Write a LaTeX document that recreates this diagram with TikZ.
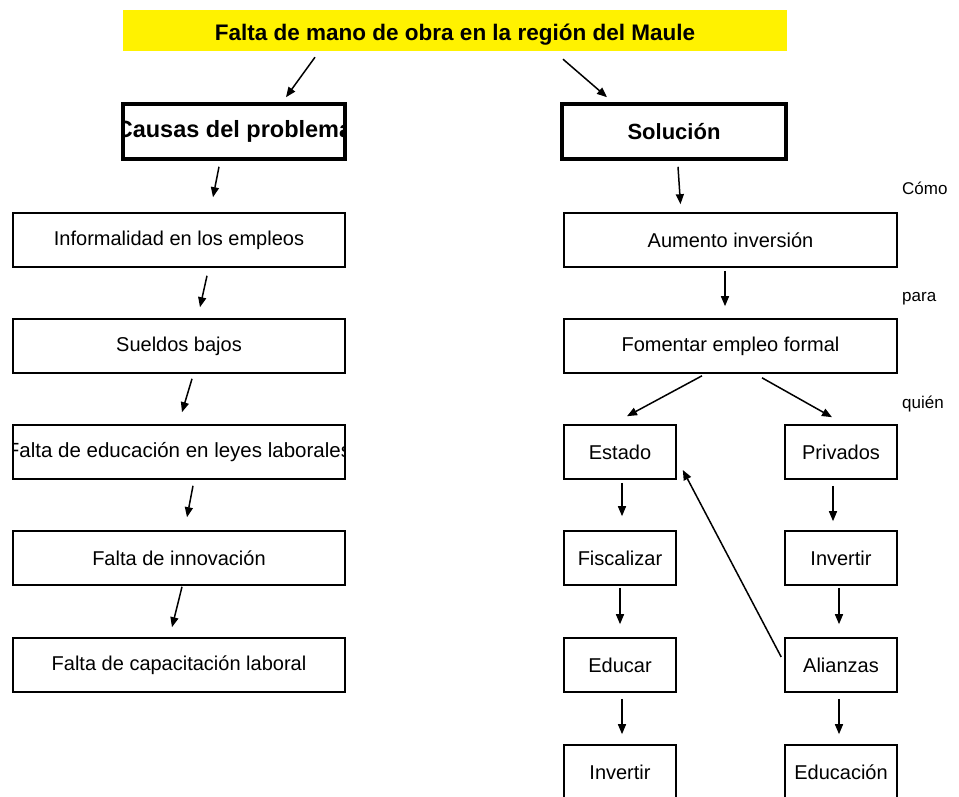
\documentclass[tikz,border=0pt]{standalone}
\usepackage{fontspec}
\setmainfont{Liberation Sans}
\usetikzlibrary{arrows.meta}
\usetikzlibrary{positioning}

\begin{document}
\begin{tikzpicture}[x=1pt, y=-1pt,
    caja/.style={draw, line width=1.6pt, minimum height=54pt, inner sep=0pt, font=\fontsize{20}{24}\selectfont},
    ancha/.style={caja, minimum width=332pt},
    angosta/.style={caja, minimum width=112pt},
    gruesa/.style={draw, line width=3.6pt, minimum width=222pt, minimum height=55pt, inner sep=0pt, font=\bfseries\fontsize{22}{26}\selectfont},
    flecha/.style={-{Triangle[length=10pt,width=8pt]}, line width=1.5pt},
    etiqueta/.style={anchor=base west, inner sep=0pt, font=\fontsize{17}{20}\selectfont}]
    \useasboundingbox (0,0) rectangle (959,797);

    % Problema
    \node[fill=yellow, minimum width=664pt, minimum height=41pt, inner sep=0pt, text height=20pt, text depth=0pt, font=\bfseries\fontsize{22.5}{26}\selectfont] (problema) at (455,30.5) {Falta de mano de obra en la región del Maule};

    % Causas
    \node[gruesa, path picture={\node[font=\bfseries\fontsize{23.5}{27}\selectfont] at (path picture bounding box.center) {Causas del problema};}] (causas) at (234,131.5) {};
    \node[ancha] (informal) at (179,240) {Informalidad en los empleos};
    \node[ancha] (sueldos) at (179,346) {Sueldos bajos};
    \node[ancha, path picture={\node[font=\fontsize{20.5}{24}\selectfont] at (path picture bounding box.center) {Falta de educación en leyes laborales};}] (leyes) at (179,452) {};
    \node[ancha] (innovacion) at (179,558) {Falta de innovación};
    \node[ancha] (capacitacion) at (179,665) {Falta de capacitación laboral};

    % Solución
    \node[gruesa, minimum width=224pt] (solucion) at (674,131.5) {Solución};
    \node[ancha, minimum width=333pt] (aumento) at (730.5,240) {Aumento inversión};
    \node[ancha, minimum width=333pt] (fomentar) at (730.5,346) {Fomentar empleo formal};
    \node[angosta] (estado) at (620,452) {Estado};
    \node[angosta] (privados) at (841,452) {Privados};
    \node[angosta] (fiscalizar) at (620,558) {Fiscalizar};
    \node[angosta] (invertirp) at (841,558) {Invertir};
    \node[angosta] (educar) at (620,665) {Educar};
    \node[angosta] (alianzas) at (841,665) {Alianzas};
    \node[angosta] (invertire) at (620,772) {Invertir};
    \node[angosta] (educacion) at (841,772) {Educación};

    \node[etiqueta] (como) at (902,195) {Cómo};
    \node[etiqueta] (para) at (902,301) {para};
    \node[etiqueta] (quien) at (902,408) {quién};

    % flechas
    \draw[flecha] ([xshift=-140pt,yshift=-6pt]problema.south) -- ([xshift=52pt,yshift=5pt]causas.north);
    \draw[flecha] ([xshift=108pt,yshift=-8pt]problema.south) -- ([xshift=-67pt,yshift=5pt]solucion.north);

    \draw[flecha] ([xshift=-15pt,yshift=-6pt]causas.south) -- ([xshift=34pt,yshift=15pt]informal.north);
    \draw[flecha] ([xshift=28pt,yshift=-8pt]informal.south) -- ([xshift=21pt,yshift=11pt]sueldos.north);
    \draw[flecha] ([xshift=13pt,yshift=-5pt]sueldos.south) -- ([xshift=3pt,yshift=12pt]leyes.north);
    \draw[flecha] ([xshift=14pt,yshift=-6pt]leyes.south) -- ([xshift=8pt,yshift=13pt]innovacion.north);
    \draw[flecha] ([xshift=3pt,yshift=-1pt]innovacion.south) -- ([xshift=-7pt,yshift=10pt]capacitacion.north);

    \draw[flecha] ([xshift=4pt,yshift=-6pt]solucion.south) -- ([xshift=-50pt,yshift=8pt]aumento.north);
    \draw[flecha] ([xshift=-5.5pt,yshift=-3pt]aumento.south) -- ([xshift=-5.5pt,yshift=12pt]fomentar.north);
    \draw[flecha] ([xshift=-28.5pt,yshift=-2pt]fomentar.south) -- ([xshift=7pt,yshift=8pt]estado.north);
    \draw[flecha] ([xshift=31.5pt,yshift=-4pt]fomentar.south) -- ([xshift=-9pt,yshift=7pt]privados.north);
    \draw[flecha] ([xshift=2pt,yshift=-3pt]estado.south) -- ([xshift=2pt,yshift=14pt]fiscalizar.north);
    \draw[flecha] ([yshift=-2pt]fiscalizar.south) -- ([yshift=13pt]educar.north);
    \draw[flecha] ([xshift=2pt,yshift=-6pt]educar.south) -- ([xshift=2pt,yshift=10pt]invertire.north);
    \draw[flecha] ([xshift=-8pt,yshift=-6pt]privados.south) -- ([xshift=-8pt,yshift=9pt]invertirp.north);
    \draw[flecha] ([xshift=-2pt,yshift=-2pt]invertirp.south) -- ([xshift=-2pt,yshift=13pt]alianzas.north);
    \draw[flecha] ([xshift=-2pt,yshift=-6pt]alianzas.south) -- ([xshift=-2pt,yshift=10pt]educacion.north);
    \draw[flecha] ([xshift=-3pt,yshift=8pt]alianzas.west) -- ([xshift=6pt,yshift=-18pt]estado.east);
\end{tikzpicture}
\end{document}
